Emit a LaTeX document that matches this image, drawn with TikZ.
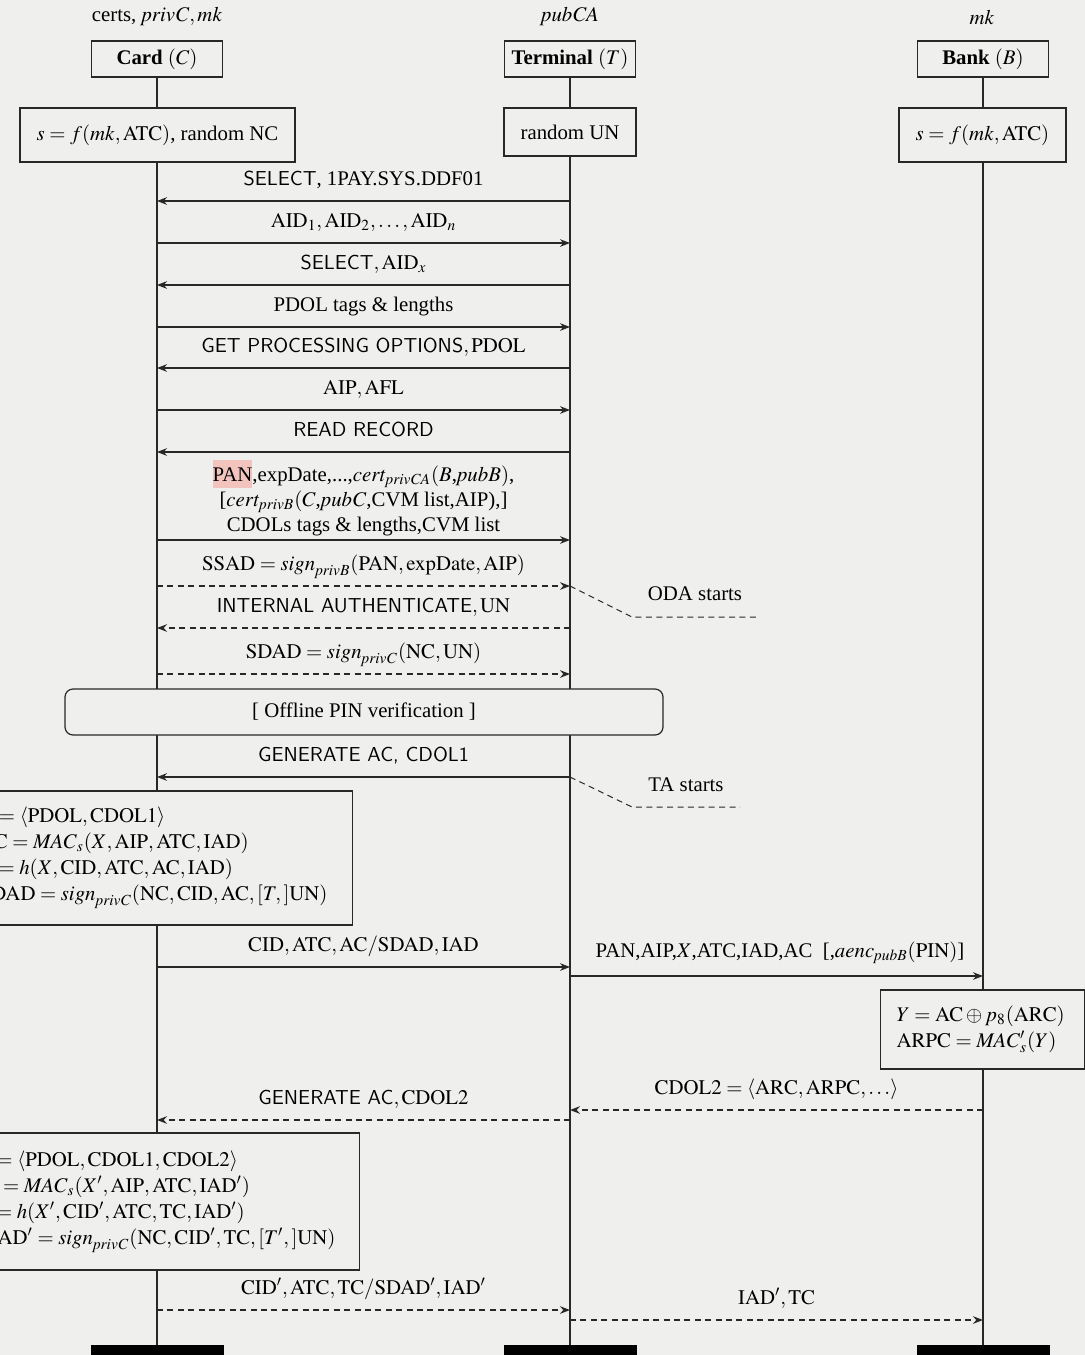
\documentclass[tikz,border=0pt]{standalone}
\usepackage{mathptmx}
\usepackage[no-math]{fontspec}
\setmainfont{Liberation Serif}
\usetikzlibrary{arrows.meta,calc}
\definecolor{paper}{RGB}{239,239,237}
\definecolor{ink}{RGB}{40,40,40}
\definecolor{hl}{RGB}{243,196,190}
\newcommand\cmdsf[1]{{\fontsize{10.1}{12.5}\sffamily #1}}
\newcommand\lane[6]{%
  \coordinate (#1a) at (#2,#4);
  \coordinate (#1b) at (#3,#4);
  \draw[#5] (#1a) -- (#1b);
  \node[lbl, anchor=base] (#1l) at ($(#1a)!0.5!(#1b)+(0,-15.5)$) {#6};}
\begin{document}
\begin{tikzpicture}[x=0.5pt,y=-0.5pt,
  lbl/.style={font=\fontsize{10.4}{12.5}\selectfont, inner sep=1pt},
  box/.style={draw=ink, fill=paper, line width=0.6pt, inner sep=0pt, font=\fontsize{10.4}{12.5}\selectfont},
  actor/.style={box, minimum width=65.5pt, minimum height=18pt},
  endbar/.style={fill=black, draw=none, minimum width=66.5pt, minimum height=15pt, inner sep=0pt},
  life/.style={draw=ink, line width=0.6pt},
  arr/.style={draw=ink, line width=0.6pt, -{Stealth[length=5pt,width=3.8pt]}},
  darr/.style={arr, dash pattern=on 3pt off 2.2pt},
  dline/.style={draw=ink, line width=0.5pt, dash pattern=on 3pt off 2.2pt}]
\fill[paper] (0,0) rectangle (1085,1355);
\useasboundingbox (0,0) rectangle (1085,1355);
\clip (0,0) rectangle (1085,1355);

% knowledge above actors
\node[lbl] (kc) at (157,17) {certs, $\mathit{privC},\mathit{mk}$};
\node[lbl] (kt) at (570,17) {$\mathit{pubCA}$};
\node[lbl] (kb) at (982,17) {$\mathit{mk}$};

% actors
\node[actor] (card) at (157,59) {\textbf{Card} $(C)$};
\node[actor] (term) at (570,59) {\textbf{Terminal} $(T)$};
\node[actor] (bank) at (983,59) {\textbf{Bank} $(B)$};

% end bars
\node[endbar] (cardend) at (157,1360) {};
\node[endbar] (termend) at (570,1360) {};
\node[endbar] (bankend) at (983,1360) {};

% lifelines
\draw[life] (card.south) -- (cardend.north);
\draw[life] (term.south) -- (termend.north);
\draw[life] (bank.south) -- (bankend.north);

% initial boxes
\node[box, minimum width=137.5pt, minimum height=27pt] (cinit) at (157.5,135) {$s=f(\mathit{mk},\mathrm{ATC})$, random NC};
\node[box, minimum width=66pt, minimum height=24pt] (tinit) at (570,132) {random UN};
\node[box, minimum width=83.5pt, minimum height=27pt] (binit) at (982.5,135) {$s=f(\mathit{mk},\mathrm{ATC})$};

% messages
\lane{m1}{570}{157}{201}{arr}{\cmdsf{SELECT}, 1PAY.SYS.DDF01}
\lane{m2}{157}{570}{243}{arr}{$\mathrm{AID}_1,\mathrm{AID}_2,\ldots,\mathrm{AID}_n$}
\lane{m3}{570}{157}{285}{arr}{\cmdsf{SELECT}$,\mathrm{AID}_x$}
\lane{m4}{157}{570}{327}{arr}{PDOL tags \& lengths}
\lane{m5}{570}{157}{368}{arr}{\cmdsf{GET PROCESSING OPTIONS}$,\mathrm{PDOL}$}
\lane{m6}{157}{570}{410}{arr}{$\mathrm{AIP},\mathrm{AFL}$}
\lane{m7}{570}{157}{452}{arr}{\cmdsf{READ RECORD}}

\coordinate (m8a) at (157,540);
\coordinate (m8b) at (570,540);
\draw[arr] (m8a) -- (m8b);
\node[lbl, align=center] (m8l) at (363.5,498) {{\setlength{\fboxsep}{0pt}\colorbox{hl}{\rule[-3.2pt]{0pt}{14pt}PAN}},expDate,...,$\mathit{cert}_{\mathit{privCA}}(B$,$\mathit{pubB})$,\\{}%
[$\mathit{cert}_{\mathit{privB}}(C$,$\mathit{pubC}$,CVM list,AIP),]\\{}%
CDOLs tags \& lengths,CVM list};

\lane{m9}{157}{570}{586}{darr}{$\mathrm{SSAD}=\mathit{sign}_{\mathit{privB}}(\mathrm{PAN},\mathrm{expDate},\mathrm{AIP})$}
\lane{m10}{570}{157}{628}{darr}{\cmdsf{INTERNAL AUTHENTICATE}$,\mathrm{UN}$}
\lane{m11}{157}{570}{674}{darr}{$\mathrm{SDAD}=\mathit{sign}_{\mathit{privC}}(\mathrm{NC},\mathrm{UN})$}

% ODA starts
\coordinate (oda1) at (632,617);
\coordinate (oda2) at (760,617);
\draw[dline] (m9b) -- (oda1) -- (oda2);
\node[lbl] (oda) at (695,594) {ODA starts};

% Offline PIN
\node[box, rounded corners=4pt, minimum width=299pt, minimum height=23pt] (pin) at (364,712) {[ Offline PIN verification ]};

\lane{m12}{570}{157}{777}{arr}{\cmdsf{GENERATE AC, CDOL1}}

% TA starts
\coordinate (ta1) at (632,807);
\coordinate (ta2) at (740,807);
\draw[dline] (m12a) -- (ta1) -- (ta2);
\node[lbl] (ta) at (686,785) {TA starts};

% card computation 1
\node[box, anchor=east, align=left, inner xsep=12.5pt, minimum height=67pt, font=\fontsize{10.4}{13}\selectfont] (cgen1) at (353,858)
 {$X=\langle\mathrm{PDOL},\mathrm{CDOL1}\rangle$\\
  $\mathrm{AC}=\mathit{MAC}_s(X,\mathrm{AIP},\mathrm{ATC},\mathrm{IAD})$\\
  $T=h(X,\mathrm{CID},\mathrm{ATC},\mathrm{AC},\mathrm{IAD})$\\
  $\mathrm{SDAD}=\mathit{sign}_{\mathit{privC}}(\mathrm{NC},\mathrm{CID},\mathrm{AC},[T,]\mathrm{UN})$};

\lane{m13}{157}{570}{967}{arr}{$\mathrm{CID},\mathrm{ATC},\mathrm{AC}/\mathrm{SDAD},\mathrm{IAD}$}

\coordinate (m14a) at (570,976);
\coordinate (m14b) at (983,976);
\draw[arr] (m14a) -- (m14b);
\node[lbl, anchor=base] (m14l) at (780,957) {PAN,AIP,$X$,ATC,IAD,AC\ \ [,$\mathit{aenc}_{\mathit{pubB}}(\mathrm{PIN})$]};

% bank computation
\node[box, anchor=west, align=left, inner xsep=8pt, text width=86pt, minimum height=39.5pt, font=\fontsize{10.4}{13}\selectfont] (bgen) at (880,1029.5)
 {$Y=\mathrm{AC}\oplus p_8(\mathrm{ARC})$\\
  $\mathrm{ARPC}=\mathit{MAC}'_s(Y)$};

\lane{m15}{983}{570}{1110}{darr}{$\mathrm{CDOL2}=\langle\mathrm{ARC},\mathrm{ARPC},\ldots\rangle$}
\lane{m16}{570}{157}{1120}{darr}{\cmdsf{GENERATE AC}$,\mathrm{CDOL2}$}

% card computation 2
\node[box, anchor=east, align=left, inner xsep=12pt, minimum height=68.5pt, font=\fontsize{10.4}{13}\selectfont] (cgen2) at (360,1201.5)
 {$X'=\langle\mathrm{PDOL},\mathrm{CDOL1},\mathrm{CDOL2}\rangle$\\
  $\mathrm{TC}=\mathit{MAC}_s(X',\mathrm{AIP},\mathrm{ATC},\mathrm{IAD}')$\\
  $T'=h(X',\mathrm{CID}',\mathrm{ATC},\mathrm{TC},\mathrm{IAD}')$\\
  $\mathrm{SDAD}'=\mathit{sign}_{\mathit{privC}}(\mathrm{NC},\mathrm{CID}',\mathrm{TC},[T',]\mathrm{UN})$};

\lane{m17}{157}{570}{1310}{darr}{$\mathrm{CID}',\mathrm{ATC},\mathrm{TC}/\mathrm{SDAD}',\mathrm{IAD}'$}
\lane{m18}{570}{983}{1320}{darr}{$\mathrm{IAD}',\mathrm{TC}$}
\end{tikzpicture}
\end{document}
